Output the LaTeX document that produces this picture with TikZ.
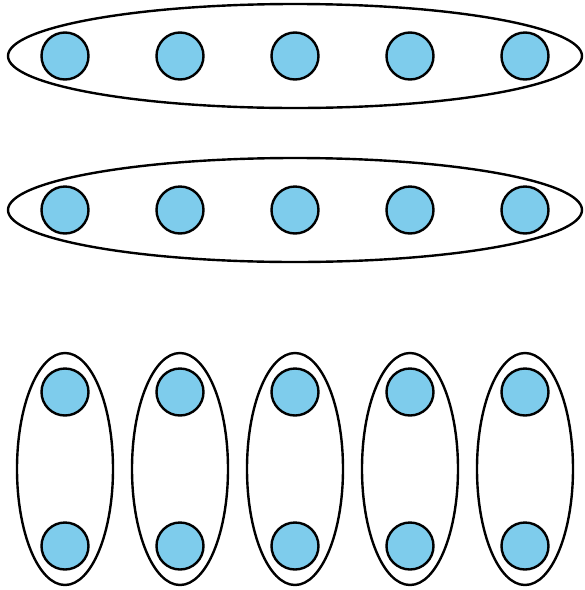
\documentclass[tikz,border=0pt]{standalone}
\usepackage{tikz}
\definecolor{ballblue}{HTML}{7ECCEC}
\tikzset{
  ball/.style={circle,draw=black,line width=2.4pt,fill=ballblue,minimum size=47pt,inner sep=0pt},
  ring/.style={draw=black,line width=2.4pt}
}
\begin{document}
\begin{tikzpicture}[x=1pt,y=-1pt]
\useasboundingbox (0,0) rectangle (585,590);
\foreach \r/\yr in {1/56,2/210}{
  \coordinate (row\r) at (295,\yr);
  \draw[ring] (row\r) ellipse [x radius=287, y radius=52];
  \foreach \k/\xk in {1/65,2/180,3/295,4/410,5/525}
    \node[ball] (b\r\k) at (\xk,\yr) {};
}
\foreach \k/\xk in {1/65,2/180,3/295,4/410,5/525}{
  \coordinate (col\k) at (\xk,469);
  \draw[ring] (col\k) ellipse [x radius=48, y radius=116];
  \node[ball] (t\k) at (\xk,392) {};
  \node[ball] (u\k) at (\xk,546) {};
}
\end{tikzpicture}
\end{document}
